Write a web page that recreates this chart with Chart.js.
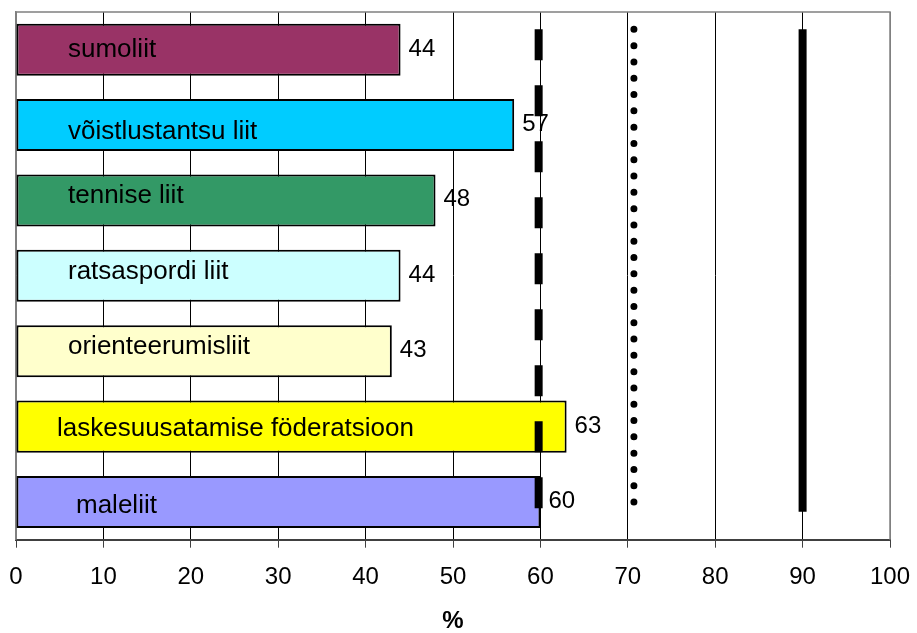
<!DOCTYPE html>
<html>
<head>
<meta charset="utf-8">
<script src="https://cdn.jsdelivr.net/npm/chart.js@4/dist/chart.umd.min.js"></script>
<style>
  html, body { margin: 0; padding: 0; background: #fff; }
</style>
</head>
<body>
<canvas id="chart" width="917" height="633"></canvas>
<script>
// data
const categories = ['sumoliit', 'võistlustantsu liit', 'tennise liit', 'ratsaspordi liit',
  'orienteerumisliit', 'laskesuusatamise föderatsioon', 'maleliit'];
const values = [44, 57, 48, 44, 43, 63, 60];
const barColors = ['#993366', '#00CCFF', '#339966', '#CCFFFF', '#FFFFCC', '#FFFF00', '#9999FF'];

// vertical reference lines (x value, and start/end in category units)
const dashedLine = [{ x: 59.8, y: -0.27 }, { x: 59.8, y: 6.13 }];
const dottedLine = [{ x: 70.7, y: -0.27 }, { x: 70.7, y: 6.03 }];
const solidLine = [{ x: 90, y: -0.27 }, { x: 90, y: 6.13 }];

const axisTitle = '%';

// where the text boxes sit inside the bars (px from left of plot, px below bar centre)
const labelLeft = [52, 52, 52, 52, 52, 41, 60];
const labelDrop = [7.6, 13.6, 2.7, 3.6, 2.7, 9, 10.7];

const FONT = "'Liberation Sans', Arial, sans-serif";

const barLabels = {
  id: 'barLabels',
  beforeDatasetsDraw(chart) {
    // grey frame on top and right of plot
    const a = chart.chartArea;
    const ctx = chart.ctx;
    ctx.save();
    ctx.strokeStyle = '#808080';
    ctx.lineWidth = 1.5;
    ctx.beginPath();
    ctx.moveTo(a.left, a.top);
    ctx.lineTo(a.right, a.top);
    ctx.lineTo(a.right, a.bottom);
    ctx.stroke();
    ctx.restore();
  },
  afterDatasetsDraw(chart) {
    const ctx = chart.ctx;
    const a = chart.chartArea;
    const bars = chart.getDatasetMeta(0).data;
    ctx.save();
    ctx.fillStyle = '#000';
    ctx.textBaseline = 'alphabetic';
    bars.forEach((bar, i) => {
      ctx.font = '26px ' + FONT;
      ctx.textAlign = 'left';
      ctx.fillText(categories[i], a.left + labelLeft[i], bar.y + labelDrop[i]);
      ctx.font = '24px ' + FONT;
      ctx.fillText(String(values[i]), bar.x + 8, bar.y + 6);
    });
    ctx.restore();
  }
};

function refLine(points, extra) {
  return Object.assign({
    type: 'line',
    data: points,
    xAxisID: 'x',
    yAxisID: 'yRef',
    borderColor: '#000',
    borderWidth: 8,
    borderCapStyle: 'butt',
    pointRadius: 0,
    fill: false,
    order: 0
  }, extra);
}

new Chart(document.getElementById('chart'), {
  type: 'bar',
  data: {
    labels: categories,
    datasets: [
      {
        type: 'bar',
        data: values,
        xAxisID: 'x',
        yAxisID: 'y',
        backgroundColor: barColors,
        borderColor: '#000',
        borderWidth: 2,
        borderSkipped: false,
        grouped: false,
        categoryPercentage: 1,
        barPercentage: 0.69,
        order: 2
      },
      refLine(dashedLine, { borderDash: [31, 25] }),
      refLine(dottedLine, { borderWidth: 7, borderDash: [0, 16.3], borderCapStyle: 'round' }),
      refLine(solidLine, {})
    ]
  },
  options: {
    indexAxis: 'y',
    responsive: false,
    animation: false,
    layout: { padding: { top: 12, left: 16, right: 27, bottom: 0 } },
    plugins: {
      legend: { display: false },
      tooltip: { enabled: false }
    },
    scales: {
      x: {
        type: 'linear',
        position: 'bottom',
        min: 0,
        max: 100,
        ticks: {
          stepSize: 10,
          color: '#000',
          padding: 15,
          maxRotation: 0,
          font: { family: FONT, size: 24 }
        },
        grid: {
          color: c => (c.tick && (c.tick.value === 0 || c.tick.value === 100)) ? '#808080' : '#000',
          lineWidth: 1,
          tickLength: 8,
          tickColor: '#404040'
        },
        border: { color: '#404040', width: 2 },
        title: {
          display: true,
          text: axisTitle,
          color: '#000',
          font: { family: FONT, size: 24, weight: 'bold', lineHeight: 1 },
          padding: { top: 2.5, bottom: 0 }
        },
        afterFit(scale) {
          // let layout.padding alone decide the side margins
          scale.paddingLeft = 0;
          scale.paddingRight = 0;
        }
      },
      y: {
        type: 'category',
        position: 'left',
        offset: true,
        ticks: { display: false },
        grid: { display: false, drawTicks: false },
        border: { color: '#808080', width: 1.5 }
      },
      yRef: {
        type: 'linear',
        display: false,
        offset: false,
        min: -0.5,
        max: 6.5,
        reverse: true
      }
    }
  },
  plugins: [barLabels]
});
</script>
</body>
</html>
